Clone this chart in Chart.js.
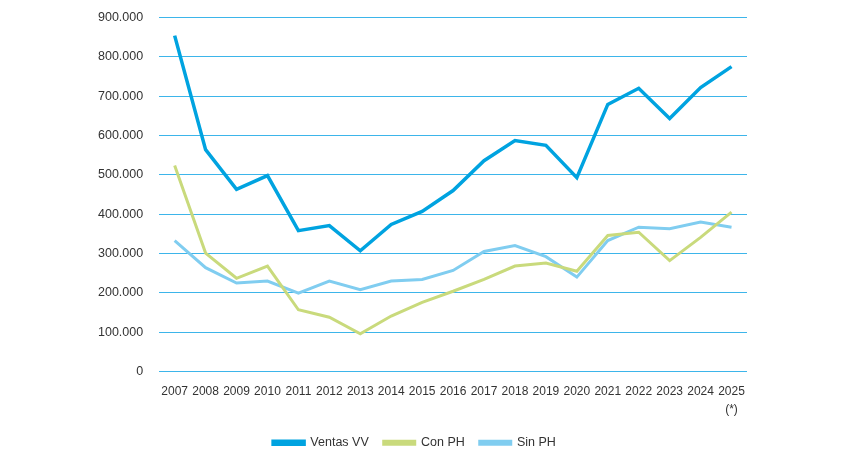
<!DOCTYPE html>
<html>
<head>
<meta charset="utf-8">
<script src="https://cdn.jsdelivr.net/npm/chart.js@4"></script>
<style>
  html, body { margin: 0; padding: 0; background: #fff; overflow: hidden; }
  #wrap { width: 850px; height: 467px; margin-top: -6px; }
</style>
</head>
<body>
<div id="wrap"><canvas id="line-chart"></canvas></div>
<script>
var years = ['2007', '2008', '2009', '2010', '2011', '2012', '2013', '2014', '2015', '2016',
    '2017', '2018', '2019', '2020', '2021', '2022', '2023', '2024', ['2025', '(*)']];

var ventasVV = [854000, 564000, 463000, 498000, 358000, 371000, 307000, 374000, 407000, 460000,
    536000, 587000, 575000, 493000, 679000, 720000, 643000, 722000, 775000];

var conPH = [524000, 301000, 237000, 268000, 157000, 138000, 96000, 141000, 176000, 204000,
    234000, 268000, 276000, 255000, 346000, 354000, 282000, 341000, 405000];

var sinPH = [333000, 264000, 225000, 230000, 199000, 230000, 208000, 230000, 234000, 257000,
    305000, 320000, 292000, 240000, 333000, 367000, 363000, 380000, 367000];

// the reference uses a condensed face; no condensed font is installed, so a plain one at a smaller size
var fontFamily = "'Liberation Sans', Arial, sans-serif";

function fmt(v) {
    if (v === 0) return '0';
    return (v / 1000).toFixed(0) + '.000';
}

function buildLineChart() {
    var ctx = document.getElementById('line-chart');
    new Chart(ctx, {
        type: 'line',
        data: {
            labels: years,
            datasets: [{
                label: 'Ventas VV',
                data: ventasVV,
                borderColor: '#00a3e0',
                backgroundColor: '#00a3e0',
                borderWidth: 3.5,
                pointRadius: 0,
                tension: 0
            }, {
                label: 'Con PH',
                data: conPH,
                borderColor: '#c9da7c',
                backgroundColor: '#c9da7c',
                borderWidth: 3,
                pointRadius: 0,
                tension: 0
            }, {
                label: 'Sin PH',
                data: sinPH,
                borderColor: '#80cdf0',
                backgroundColor: '#80cdf0',
                borderWidth: 3,
                pointRadius: 0,
                tension: 0
            }]
        },
        options: {
            responsive: true,
            maintainAspectRatio: false,
            animation: false,
            layout: { padding: { left: 82, right: 103, top: 0, bottom: 2 } },
            plugins: {
                tooltip: { enabled: false },
                legend: {
                    position: 'bottom',
                    labels: {
                        boxWidth: 31,
                        boxHeight: 3,
                        padding: 15,
                        color: '#333',
                        font: { family: fontFamily, size: 12.5 }
                    }
                }
            },
            scales: {
                x: {
                    offset: true,
                    grid: { display: false },
                    border: { display: false },
                    ticks: {
                        color: '#333',
                        maxRotation: 0,
                        autoSkip: false,
                        padding: 3,
                        font: { family: fontFamily, size: 12, lineHeight: 1.5 }
                    }
                },
                y: {
                    min: 0,
                    max: 900000,
                    grid: {
                        color: '#3db5ea',
                        lineWidth: 1,
                        drawTicks: false
                    },
                    border: { display: false },
                    ticks: {
                        stepSize: 100000,
                        padding: 16,
                        color: '#333',
                        font: { family: fontFamily, size: 12.5 },
                        callback: function(v) { return fmt(v); }
                    }
                }
            }
        }
    });
}

buildLineChart();
</script>
</body>
</html>
